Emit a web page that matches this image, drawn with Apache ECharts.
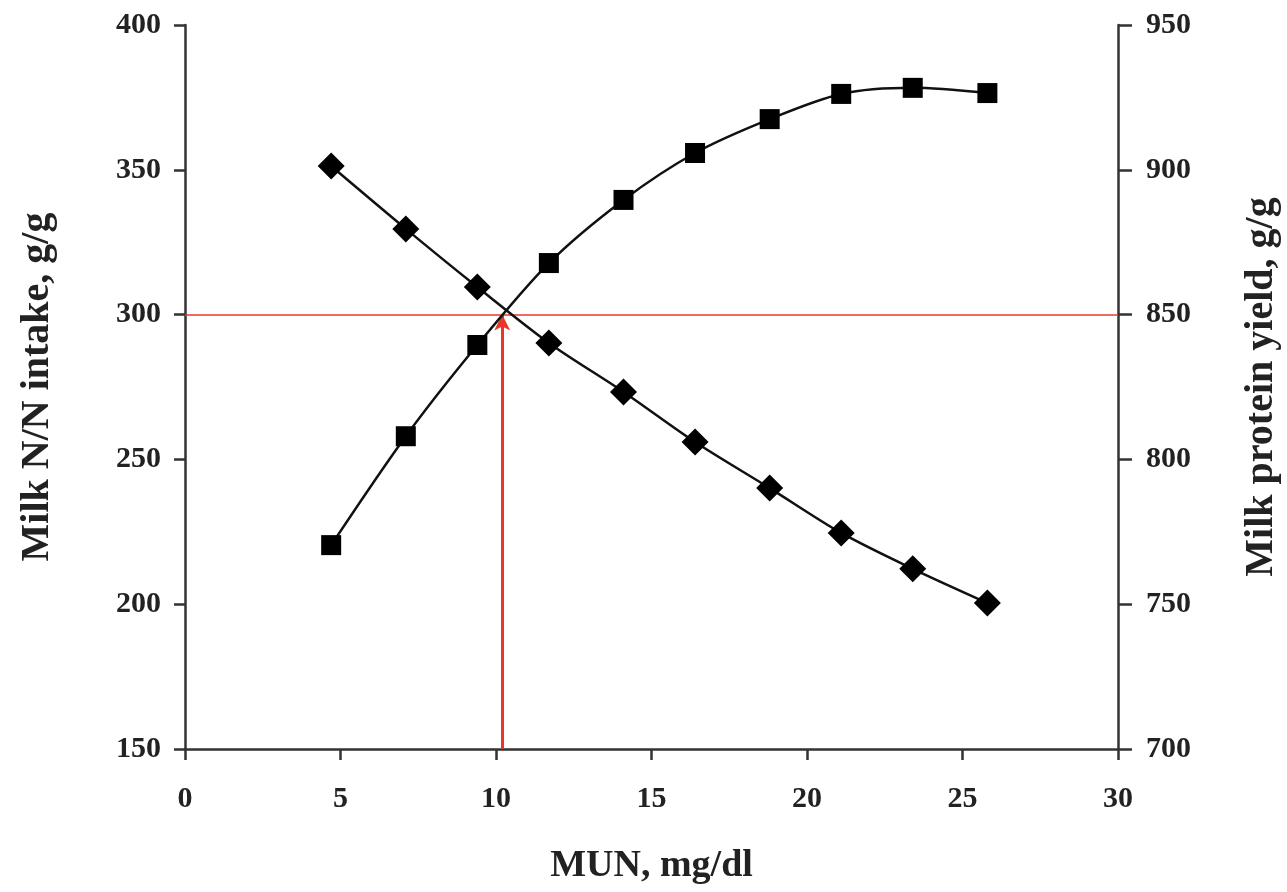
<!DOCTYPE html>
<html>
<head>
<meta charset="utf-8">
<style>html,body{margin:0;padding:0;background:#fff;overflow:hidden}#c{width:1287px;height:892px}</style>
<script src="https://cdn.jsdelivr.net/npm/echarts@6/dist/echarts.min.js"></script>
</head>
<body>
<div id="c"></div>
<script>
var mun = [4.7, 7.1, 9.4, 11.7, 14.1, 16.4, 18.8, 21.1, 23.4, 25.8];
var nIntake = [351.3, 329.6, 309.5, 290.2, 273.3, 256.0, 240.1, 224.6, 212.2, 200.4];
var proteinYield = [770.4, 808.0, 839.5, 867.8, 889.6, 905.8, 917.5, 926.2, 928.3, 926.5];
var refY = 300;
var refX = 10.2;
var xTicks = [0, 5, 10, 15, 20, 25, 30];
var leftTicks = [150, 200, 250, 300, 350, 400];
var rightTicks = [700, 750, 800, 850, 900, 950];

var font = 'Liberation Serif';
var chart = echarts.init(document.getElementById('c'));
function pairs(xs, ys){ return xs.map(function(x,i){return [x, ys[i]];}); }
var axisLine = {show:true, onZero:false, lineStyle:{color:'#333', width:2.5}};
var tick = {show:true, length:11, lineStyle:{color:'#333', width:2.5}};
var lab = {color:'#222', fontFamily:font, fontWeight:'bold', fontSize:30};
var nameStyle = {color:'#222', fontFamily:font, fontWeight:'bold', fontSize:38};
var yNameStyle = {color:'#222', fontFamily:font, fontWeight:'bold', fontSize:40};
chart.setOption({
  animation:false,
  backgroundColor:'#fff',
  grid:{left:185, right:169, top:25, bottom:143, containLabel:false, outerBoundsMode:'none'},
  xAxis:{type:'value', min:xTicks[0], max:xTicks[xTicks.length-1], interval:5,
    name:'MUN, mg/dl', nameLocation:'middle', nameGap:98, nameTextStyle:nameStyle,
    axisLine:axisLine, axisTick:tick, splitLine:{show:false},
    axisLabel:Object.assign({margin:35}, lab)},
  yAxis:[
    {type:'value', min:leftTicks[0], max:leftTicks[leftTicks.length-1], interval:50, position:'left',
     name:'Milk N/N intake, g/g', nameLocation:'middle', nameGap:127, nameTextStyle:yNameStyle,
     axisLine:axisLine, axisTick:tick, splitLine:{show:false},
     axisLabel:Object.assign({margin:24}, lab)},
    {type:'value', min:rightTicks[0], max:rightTicks[rightTicks.length-1], interval:50, position:'right',
     name:'Milk protein yield, g/g', nameLocation:'middle', nameGap:124, nameRotate:90, nameTextStyle:yNameStyle,
     axisLine:axisLine, axisTick:{show:true, length:14, lineStyle:{color:'#333', width:2.5}}, splitLine:{show:false},
     axisLabel:Object.assign({margin:28}, lab)},
    {type:'value', min:rightTicks[0], max:rightTicks[rightTicks.length-1], interval:50, position:'right',
     axisLine:{show:false}, axisTick:{show:true, inside:true, length:10, lineStyle:{color:'#333', width:2.5}},
     axisLabel:{show:false}, splitLine:{show:false}}
  ],
  series:[
    {type:'line', yAxisIndex:1, data:pairs(mun, proteinYield), smooth:0.3,
     symbol:'rect', symbolSize:20, lineStyle:{color:'#111', width:2.5}, itemStyle:{color:'#000'}, z:3},
    {type:'line', yAxisIndex:0, data:pairs(mun, nIntake), smooth:0.3,
     symbol:'diamond', symbolSize:27, lineStyle:{color:'#111', width:2.5}, itemStyle:{color:'#000'}, z:3,
     markLine:{silent:true, animation:false, label:{show:false}, z:2,
       data:[
         [{coord:[xTicks[0], refY], symbol:'none', lineStyle:{color:'#e8372a', width:1.5, type:'solid'}},
          {coord:[xTicks[xTicks.length-1], refY], symbol:'none'}],
         [{coord:[refX, leftTicks[0]], symbol:'none', lineStyle:{color:'#e8372a', width:3, type:'solid'}},
          {coord:[refX, refY], symbol:'arrow', symbolSize:[12,16]}]
       ]}}
  ]
});
</script>
</body>
</html>
